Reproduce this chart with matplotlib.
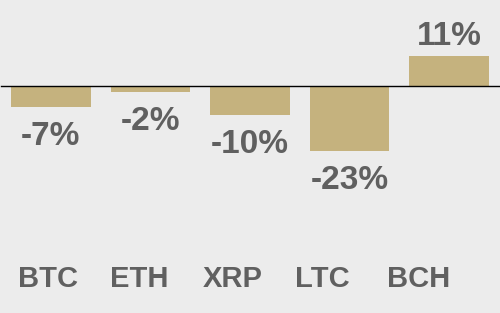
import matplotlib
matplotlib.use("Agg")
import matplotlib.pyplot as plt
from matplotlib.patches import FancyBboxPatch

# Data
coins = ["BTC", "ETH", "XRP", "LTC", "BCH"]
changes = [-7.2, -1.9, -10.0, -22.8, 10.7]

bg = "#ececec"
bar_color = "#c5b27e"
text_color = "#606060"

plt.rcParams["font.family"] = ["Liberation Sans", "DejaVu Sans"]

fig = plt.figure(figsize=(5, 3.13), dpi=100, facecolor=bg)
ax = fig.add_axes([0, 0, 1, 1])
ax.set_facecolor(bg)

x = list(range(len(coins)))
bars = ax.bar(x, changes, width=0.8, color=bar_color, zorder=2)
ax.axhline(0, color="black", linewidth=1, xmin=0.002, xmax=0.998, zorder=3)

for xi, v in zip(x, changes):
    label = f"{round(v):d}%"
    if v < 0:
        ax.annotate(label, (xi, v), xytext=(0, -10), textcoords="offset points",
                    ha="center", va="top", fontsize=24, fontweight="bold",
                    color=text_color)
    else:
        ax.annotate(label, (xi, v), xytext=(0, 3), textcoords="offset points",
                    ha="center", va="bottom", fontsize=24, fontweight="bold",
                    color=text_color)

# category row along the bottom, evenly spaced
for i, name in enumerate(coins):
    fig.text((18 + 92.3 * i) / 500, 0.11, name, ha="left", va="center",
             fontsize=21, fontweight="bold", color=text_color)

ax.set_xlim(-0.51, 4.51)
ax.set_ylim(-79.5, 30.35)
ax.axis("off")

fig.savefig("out.png", dpi=100, facecolor=bg)
